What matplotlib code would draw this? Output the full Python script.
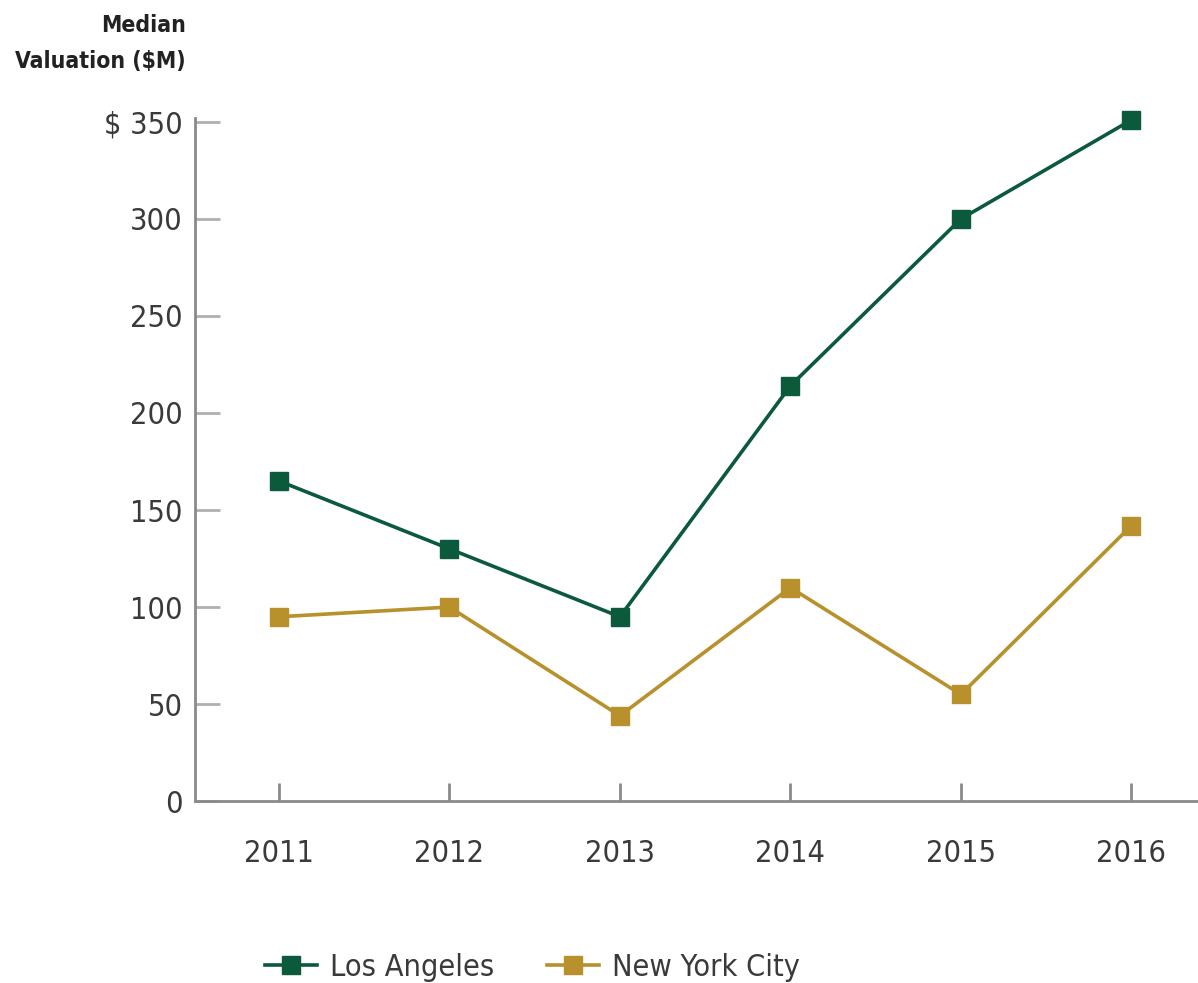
import matplotlib.pyplot as plt

years = [2011, 2012, 2013, 2014, 2015, 2016]
los_angeles = [165, 130, 95, 214, 300, 351]
new_york = [95, 100, 44, 110, 55, 142]
y_ticks = [0, 50, 100, 150, 200, 250, 300, 350]
y_tick_labels = ['0', '50', '100', '150', '200', '250', '300', '$ 350']

green = '#0c5a3c'
gold = '#b8902c'
axis_gray = '#8a8a8a'

# narrow face to get close to the original condensed type
plt.rcParams['font.family'] = ['DejaVu Sans']
plt.rcParams['font.stretch'] = 'condensed'

fig = plt.figure(figsize=(11.98, 9.83), dpi=100)
ax = fig.add_axes([0.163, 0.185, 0.837, 0.695])

ax.plot(years, los_angeles, marker='s', color=green, linewidth=2.6, markersize=13, label='Los Angeles', clip_on=False)
ax.plot(years, new_york, marker='s', color=gold, linewidth=2.6, markersize=13, label='New York City', clip_on=False)

ax.set_xlim(2010.51, 2016.39)
ax.set_ylim(0, 352)
ax.set_xticks(years)
ax.set_yticks(y_ticks)
ax.set_yticklabels(y_tick_labels)

for side in ['top', 'right']:
    ax.spines[side].set_visible(False)
for side in ['left', 'bottom']:
    ax.spines[side].set_color(axis_gray)
    ax.spines[side].set_linewidth(2)

ax.tick_params(axis='y', direction='in', length=18, width=2, color='#b0b0b0', pad=9, labelsize=22, labelcolor='#3a3a3a')
ax.tick_params(axis='x', direction='in', length=13, width=2, color=axis_gray, pad=27, labelsize=22, labelcolor='#3a3a3a')

fig.text(0.155, 0.986, 'Median\nValuation ($M)', ha='right', va='top', fontsize=16.5, fontweight='bold',
         color='#222222', linespacing=1.75)

leg = fig.legend(loc='lower left', bbox_to_anchor=(0.198, -0.027), ncol=2, frameon=False, fontsize=22,
                 handlelength=1.7, columnspacing=1.7, handletextpad=0.45)
for t in leg.get_texts():
    t.set_color('#3a3a3a')

fig.savefig('out.png', dpi=100)
